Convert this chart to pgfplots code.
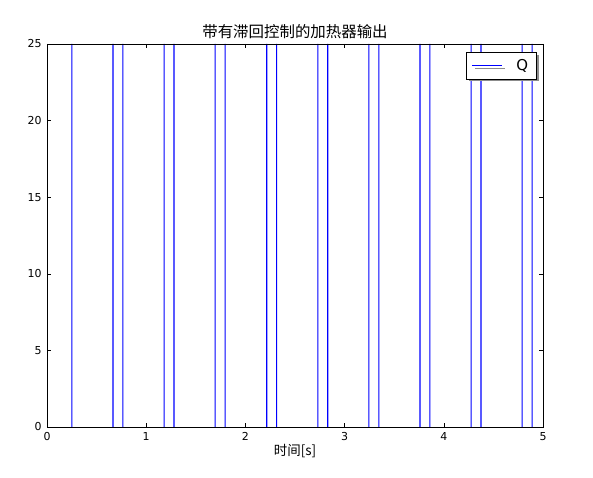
\documentclass[border=0pt]{standalone}
\usepackage{pgfplots}
\pgfplotsset{compat=1.18}
\usetikzlibrary{shadows}
\usepackage{fontspec}
\setmainfont{DejaVu Sans}
\newfontfamily\cjk{Noto Sans CJK SC}
\definecolor{mplblue}{RGB}{0,0,255}
\begin{document}
\begin{tikzpicture}[x=1bp,y=1bp]
\path[use as bounding box] (-47bp,-51bp) rectangle (546bp,427bp);
\begin{axis}[
  at={(0,0)}, anchor=south west,
  scale only axis, width=496bp, height=383bp,
  xmin=0, xmax=5, ymin=0, ymax=25,
  xtick={0,1,2,3,4,5}, ytick={0,5,10,15,20,25},
  tick align=inside, tickpos=both,
  major tick length=4bp,
  tick style={black, line width=0.5pt},
  axis line style={black, line width=0.8pt},
  axis on top,
  /pgf/number format/assume math mode=true,
  tick label style={font=\fontsize{11}{13}\selectfont},
  xticklabel style={yshift=-2bp},
  yticklabel style={xshift=-2bp},
  title={\cjk 带有滞回控制的加热器输出},
  title style={font=\cjk\fontsize{15.5}{17}\selectfont, yshift=-4bp},
  xlabel={\cjk 时间[s]},
  xlabel style={font=\cjk\fontsize{13.5}{15}\selectfont, yshift=3bp},
  legend style={at={(0.987,0.979)}, anchor=north east, draw=black, line width=0.7pt,
    font=\fontsize{15}{17}\selectfont, inner xsep=6bp, inner ysep=5bp,
    drop shadow={shadow xshift=2.5bp, shadow yshift=-2.5bp, fill=black!45, opacity=1, draw=none}},
  legend cell align=left,
  legend image code/.code={\fill[mplblue] (0bp,-0.55bp) rectangle (30bp,0.55bp);},
]
\addplot[ybar, bar width=1.1bp, bar shift=0pt, fill=mplblue, draw=none] coordinates {
(0.25,25) (0.665,25) (0.765,25) (1.18,25) (1.28,25) (1.695,25) (1.795,25)
(2.215,25) (2.315,25) (2.73,25) (2.83,25) (3.245,25) (3.345,25) (3.76,25) (3.86,25)
(4.275,25) (4.375,25) (4.79,25) (4.89,25)
};
\addlegendentry{\hspace{12bp}Q}
\end{axis}
\end{tikzpicture}
\end{document}
